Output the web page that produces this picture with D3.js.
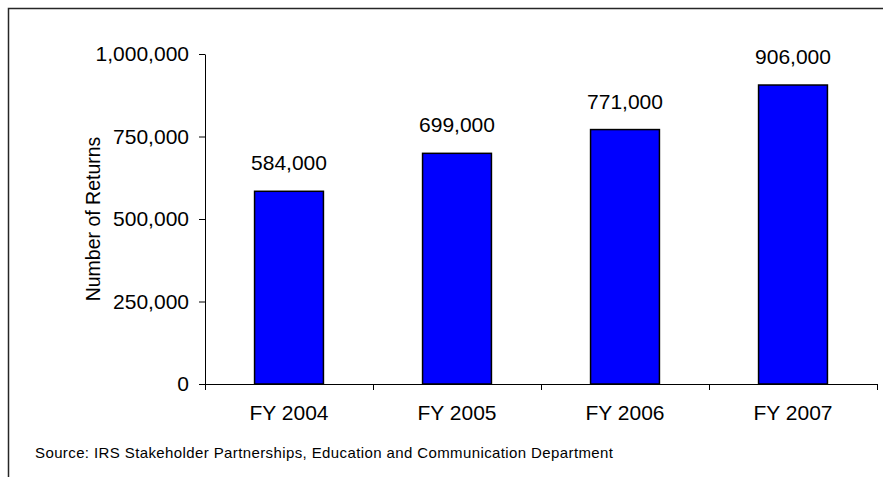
<!DOCTYPE html>
<html>
<head>
<meta charset="utf-8">
<script src="https://cdn.jsdelivr.net/npm/d3@7"></script>
<style>
  body { margin: 0; background: #fff; }
  svg text { font-family: "Liberation Sans", Arial, sans-serif; fill: #000; }
</style>
</head>
<body>
<div id="chart"></div>
<script>
// chart data
const years = ['FY 2004', 'FY 2005', 'FY 2006', 'FY 2007'];
const returns = [584000, 699000, 771000, 906000];
const yTicks = [0, 250000, 500000, 750000, 1000000];
const yTitle = 'Number of Returns';
const source = 'Source: IRS Stakeholder Partnerships, Education and Communication Department';

const width = 883, height = 477;
const margin = {t: 54, r: 6, b: 93, l: 205};
const w = width - margin.l - margin.r;
const h = height - margin.t - margin.b;

const svg = d3.select('#chart')
    .append('svg')
    .attr('width', width)
    .attr('height', height);

// outer frame (open on right and bottom, like the clipped original)
svg.append('rect')
    .attr('x', 8.5)
    .attr('y', 8.5)
    .attr('width', 1000)
    .attr('height', 1000)
    .attr('fill', 'none')
    .attr('stroke', '#262626')
    .attr('stroke-width', 1.5);

const plot = svg.append('g')
    .attr('transform', `translate(${margin.l},${margin.t})`);

// scales
const scaleX = d3.scaleBand()
    .domain(years)
    .range([0, w])
    .padding(0);

const scaleY = d3.scaleLinear()
    .domain([0, 1000000])
    .range([h, 0]);

const barW = scaleX.bandwidth() * 0.41;

// bars
plot.selectAll('.bar')
    .data(years)
    .enter()
    .append('rect')
    .attr('class', 'bar')
    .attr('x', d => scaleX(d) + (scaleX.bandwidth() - barW) / 2)
    .attr('y', (d, i) => scaleY(returns[i]))
    .attr('width', barW)
    .attr('height', (d, i) => h - scaleY(returns[i]))
    .attr('fill', '#0000ff')
    .attr('stroke', '#000')
    .attr('stroke-width', 1.5);

// value labels
plot.selectAll('.val')
    .data(years)
    .enter()
    .append('text')
    .attr('class', 'val')
    .attr('x', d => scaleX(d) + scaleX.bandwidth() / 2)
    .attr('y', (d, i) => scaleY(returns[i]) - 21)
    .attr('text-anchor', 'middle')
    .attr('font-size', 21)
    .text((d, i) => d3.format(',')(returns[i]));

// y axis
const axisY = d3.axisLeft(scaleY)
    .tickValues(yTicks)
    .tickFormat(d3.format(','))
    .tickSize(6)
    .tickSizeOuter(0)
    .tickPadding(10);

const axisYNode = plot.append('g')
    .attr('class', 'axis axis-y')
    .call(axisY);
axisYNode.selectAll('text')
    .attr('font-size', 21)
    .attr('fill', '#000');
axisYNode.selectAll('line, path').attr('stroke', '#000');

// x axis: labels under band centres, ticks at band edges
const axisX = d3.axisBottom(scaleX)
    .tickSize(0)
    .tickSizeOuter(0)
    .tickPadding(21);

const axisXNode = plot.append('g')
    .attr('class', 'axis axis-x')
    .attr('transform', `translate(0,${h})`)
    .call(axisX);
axisXNode.selectAll('text')
    .attr('font-size', 21)
    .attr('fill', '#000');
axisXNode.select('.domain').attr('stroke', '#000');

const edges = years.map(d => scaleX(d)).concat([w]);
axisXNode.selectAll('.edge')
    .data(edges)
    .enter()
    .append('line')
    .attr('class', 'edge')
    .attr('x1', d => Math.round(d) + 0.5)
    .attr('x2', d => Math.round(d) + 0.5)
    .attr('y1', 0)
    .attr('y2', 6)
    .attr('stroke', '#000');

// y title
svg.append('text')
    .attr('transform', `translate(100,${margin.t + h / 2}) rotate(-90)`)
    .attr('text-anchor', 'middle')
    .attr('font-size', 19.5)
    .text(yTitle);

// source note
svg.append('text')
    .attr('x', 35)
    .attr('y', 458)
    .attr('font-size', 15)
    .attr('textLength', 578)
    .attr('lengthAdjust', 'spacing')
    .text(source);
</script>
</body>
</html>
